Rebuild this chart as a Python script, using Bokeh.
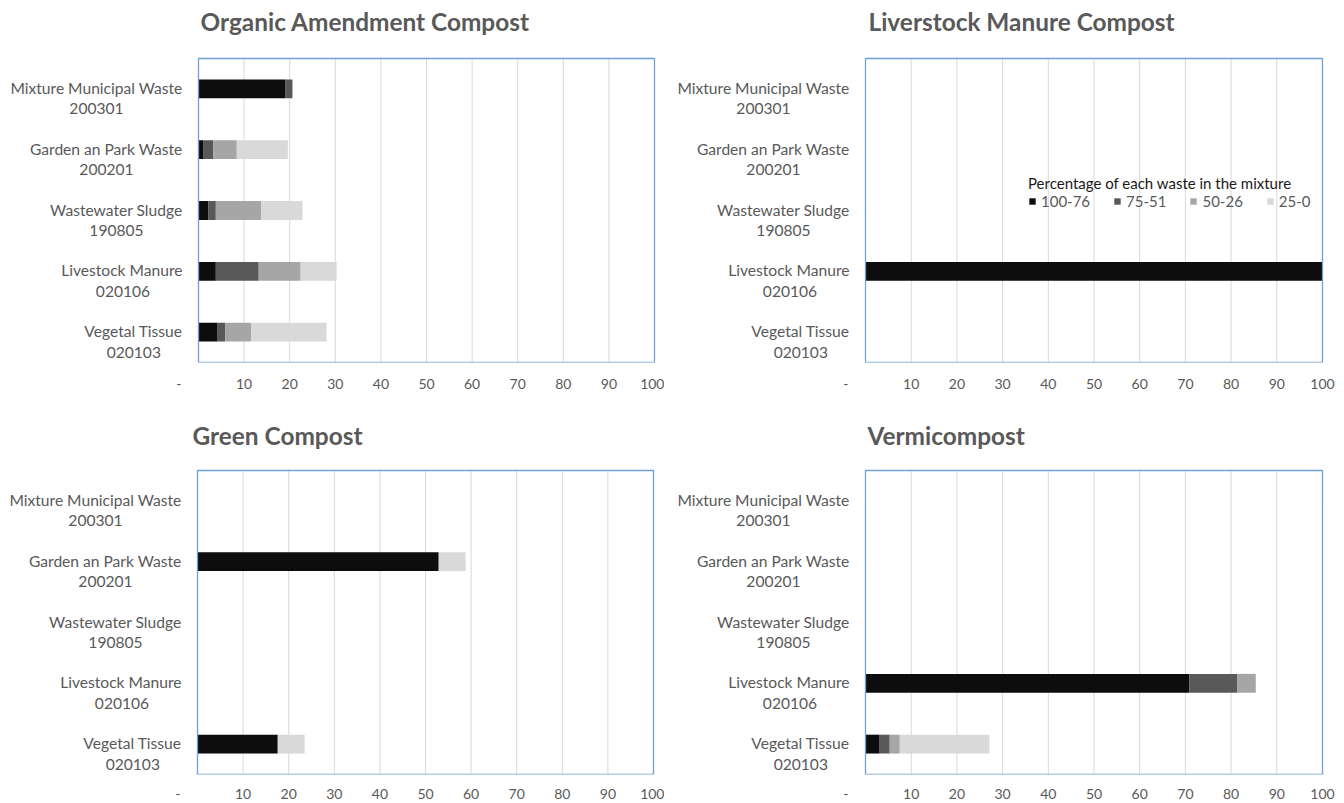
from bokeh.plotting import figure
from bokeh.models import ColumnDataSource, Range1d, FixedTicker, Legend, LegendItem, BoxAnnotation
from bokeh.layouts import column, row
from bokeh.embed import file_html
from bokeh.resources import INLINE
from bokeh.core.properties import value

# ---------------- data ----------------
categories = ["Mixture Municipal Waste", "Garden an Park Waste", "Wastewater Sludge",
              "Livestock Manure", "Vegetal Tissue"]
codes = ["200301", "200201", "190805", "020106", "020103"]
ranges = ["100-76", "75-51", "50-26", "25-0"]
x_ticks = [0, 10, 20, 30, 40, 50, 60, 70, 80, 90, 100]

organic_100_76 = [19.1, 1.0, 2.2, 3.8, 4.2]
organic_75_51 = [1.5, 2.2, 1.6, 9.4, 1.7]
organic_50_26 = [0.0, 5.2, 10.0, 9.2, 5.7]
organic_25_0 = [0.0, 11.2, 9.0, 7.9, 16.5]

livestock_100_76 = [0.0, 0.0, 0.0, 100.0, 0.0]
livestock_75_51 = [0.0, 0.0, 0.0, 0.0, 0.0]
livestock_50_26 = [0.0, 0.0, 0.0, 0.0, 0.0]
livestock_25_0 = [0.0, 0.0, 0.0, 0.0, 0.0]

green_100_76 = [0.0, 52.9, 0.0, 0.0, 17.6]
green_75_51 = [0.0, 0.0, 0.0, 0.0, 0.0]
green_50_26 = [0.0, 0.0, 0.0, 0.0, 0.0]
green_25_0 = [0.0, 5.9, 0.0, 0.0, 5.9]

vermi_100_76 = [0.0, 0.0, 0.0, 70.9, 3.1]
vermi_75_51 = [0.0, 0.0, 0.0, 10.4, 2.2]
vermi_50_26 = [0.0, 0.0, 0.0, 4.1, 2.2]
vermi_25_0 = [0.0, 0.0, 0.0, 0.0, 19.6]

panel_titles = ["Organic Amendment Compost", "Liverstock Manure Compost",
                "Green Compost", "Vermicompost"]
legend_title = "Percentage of each waste in the mixture"

# ---------------- style ----------------
colors = ["#0d0d0d", "#595959", "#a6a6a6", "#d9d9d9"]
FONT = "Lato"
TEXT_GRAY = "#595959"
OUTLINE = "#6f9fd8"
# horizontal offset (px from the plot box left) of the centre of the second label line
code_offsets = [-102, -92, -82, -75.5, -64.7]
NCAT = len(categories)


def make_panel(title, series, fw, fh, bb, L, R, T, B, title_dx, title_cy,
               label_standoff, legend=False):
    # pixel geometry -> data ranges (plot box spans 0..100 and the category band)
    sx = (R - L) / 100.0
    spy = (B - T) / NCAT
    x0 = -L / sx
    x1 = 100 + (fw - R) / sx
    y0 = -0.5
    y1 = NCAT - 0.5 + T / spy
    p = figure(frame_width=fw, frame_height=fh,
               x_range=Range1d(x0, x1), y_range=Range1d(y0, y1),
               y_axis_location=None, output_backend="svg", toolbar_location=None,
               min_border_left=0, min_border_right=0, min_border_top=0,
               min_border_bottom=bb, outline_line_color=None,
               background_fill_color="white", border_fill_color="white")
    p.xgrid.grid_line_color = None
    p.ygrid.grid_line_color = None

    # vertical grid lines inside the plot box
    top_cat = NCAT - 0.5
    p.segment(x0=x_ticks, y0=[-0.5] * len(x_ticks), x1=x_ticks, y1=[top_cat] * len(x_ticks),
              line_color="#d9d9d9", line_width=1)

    ypos = list(range(NCAT))[::-1]
    data = {"y": ypos}
    for name, vals in zip(ranges, series):
        data[name] = vals
    src = ColumnDataSource(data)
    rends = p.hbar_stack(ranges, y="y", height=0.31, color=colors, source=src,
                         line_color=None)

    p.add_layout(BoxAnnotation(left=0, right=100, bottom=-0.5, top=top_cat,
                               fill_alpha=0, line_color=OUTLINE, line_width=1.3,
                               line_alpha=1))

    # category labels (two lines: name and code)
    lab = ColumnDataSource({
        "x": [0] * NCAT,
        "y1": [y + 1.0 / spy for y in ypos],
        "y2": [y - 20.0 / spy for y in ypos],
        "cat": categories, "code": codes, "off": code_offsets})
    p.text(x="x", y="y1", text="cat", source=lab, x_offset=-16,
           text_align="right", text_baseline="middle", text_font=value(FONT),
           text_font_size="15.6px", text_color=TEXT_GRAY)
    p.text(x="x", y="y2", text="code", source=lab, x_offset="off",
           text_align="center", text_baseline="middle", text_font=value(FONT),
           text_font_size="15.6px", text_color=TEXT_GRAY)

    # panel title
    p.text(x=[0], y=[top_cat + (T - title_cy) / spy], text=[title], x_offset=title_dx,
           text_align="left", text_baseline="middle", text_font=value(FONT),
           text_font_size="24.4px", text_font_style="bold", text_color=TEXT_GRAY)

    ax = p.xaxis[0]
    ax.ticker = FixedTicker(ticks=x_ticks)
    ax.major_label_overrides = {0: "-" + "\u00a0" * 11}
    ax.axis_line_color = None
    ax.major_tick_line_color = None
    ax.minor_tick_line_color = None
    ax.major_tick_out = 0
    ax.major_tick_in = 0
    ax.major_label_standoff = label_standoff
    ax.major_label_text_font = FONT
    ax.major_label_text_font_size = "14px"
    ax.major_label_text_color = TEXT_GRAY

    if legend:
        items = [LegendItem(label=r, renderers=[rd]) for r, rd in zip(ranges, rends)]
        lg = Legend(items=items, orientation="horizontal", location=(364, 152),
                    title=legend_title, title_text_font=FONT,
                    title_text_font_size="15px", title_text_font_style="normal",
                    title_text_color="#1a1a1a", title_standoff=0,
                    label_text_font=FONT, label_text_font_size="15px",
                    label_text_color=TEXT_GRAY, glyph_width=8, glyph_height=8,
                    label_standoff=5, spacing=23, padding=0, margin=0,
                    border_line_color=None, background_fill_alpha=0,
                    label_height=16)
        p.add_layout(lg)
    return p


p1 = make_panel(panel_titles[0], [organic_100_76, organic_75_51, organic_50_26, organic_25_0],
                664, 362, 42, 198, 654, 58, 362, 2, 21, 12)
p2 = make_panel(panel_titles[1], [livestock_100_76, livestock_75_51, livestock_50_26, livestock_25_0],
                680, 362, 42, 201, 658, 58, 362, 3, 21, 12, legend=True)
p3 = make_panel(panel_titles[2], [green_100_76, green_75_51, green_50_26, green_25_0],
                664, 370, 26, 197, 653, 66, 370, -5, 31, 10)
p4 = make_panel(panel_titles[3], [vermi_100_76, vermi_75_51, vermi_50_26, vermi_25_0],
                680, 370, 26, 201, 658, 66, 370, 2, 31, 10)

layout = column(row(p1, p2), row(p3, p4))
open("out.html", "w").write(file_html(layout, INLINE))
